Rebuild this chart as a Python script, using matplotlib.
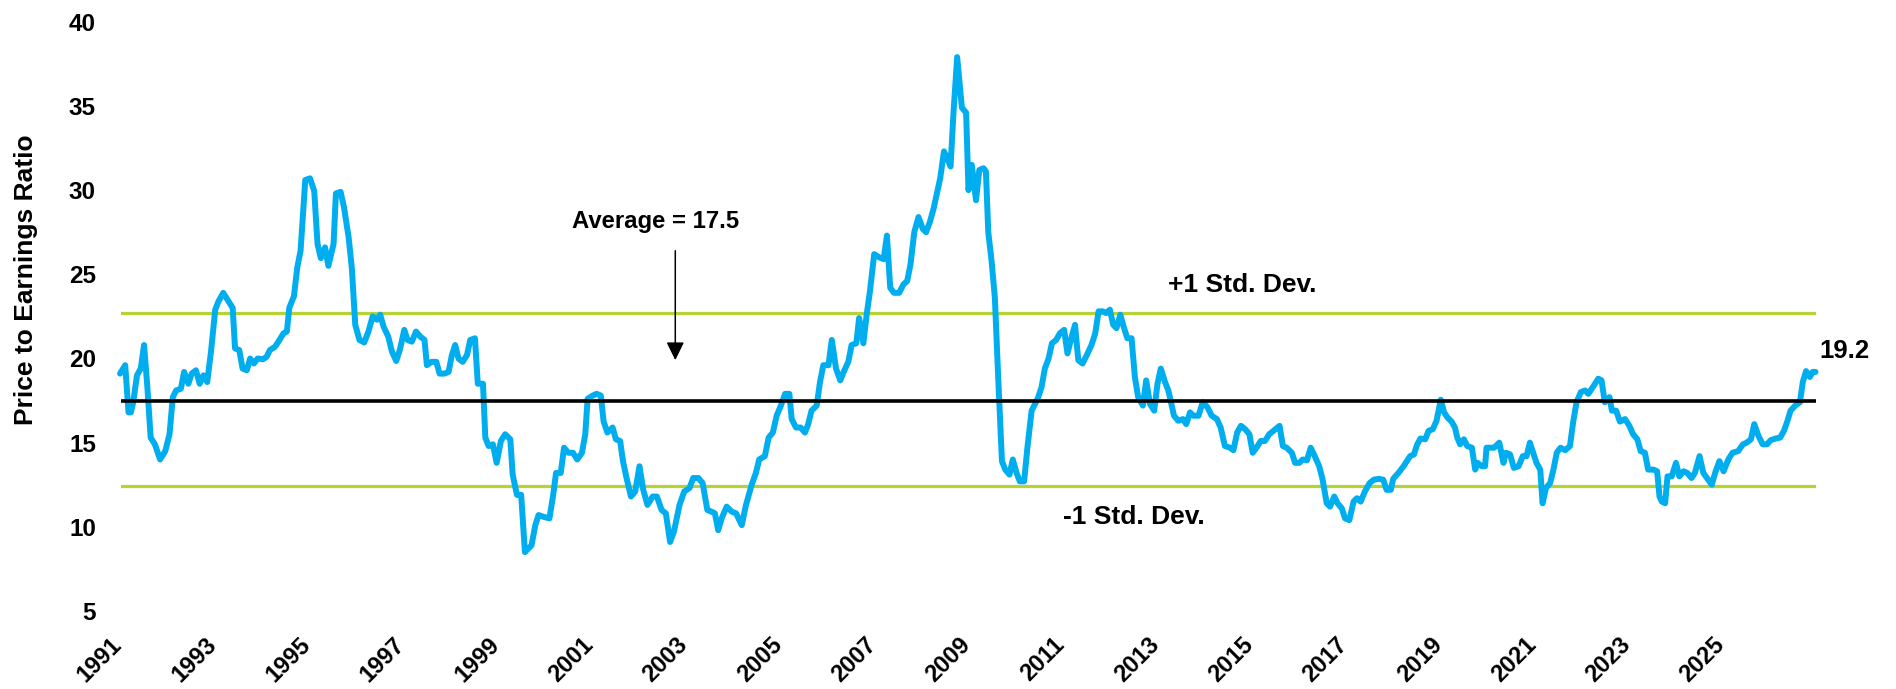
import matplotlib
matplotlib.use("Agg")
import matplotlib.pyplot as plt

# P/E ratio (decimal year, value)
years = [
    1990.86, 1990.97, 1991.04, 1991.09, 1991.14, 1991.22, 1991.30, 1991.37, 1991.44, 1991.51,
    1991.60, 1991.71, 1991.82, 1991.91, 1991.98, 1992.05, 1992.15, 1992.22, 1992.31, 1992.38,
    1992.47, 1992.55, 1992.63, 1992.71, 1992.79, 1992.88, 1992.95, 1993.05, 1993.16, 1993.25,
    1993.30, 1993.39, 1993.46, 1993.55, 1993.62, 1993.70, 1993.78, 1993.89, 1993.97, 1994.04,
    1994.15, 1994.22, 1994.33, 1994.40, 1994.45, 1994.55, 1994.62, 1994.69, 1994.79, 1994.89,
    1994.98, 1995.05, 1995.12, 1995.21, 1995.28, 1995.39, 1995.44, 1995.54, 1995.61, 1995.71,
    1995.78, 1995.85, 1995.94, 1996.04, 1996.13, 1996.22, 1996.31, 1996.38, 1996.45, 1996.55,
    1996.63, 1996.72, 1996.80, 1996.89, 1996.96, 1997.05, 1997.14, 1997.23, 1997.32, 1997.37,
    1997.47, 1997.57, 1997.64, 1997.74, 1997.83, 1997.90, 1997.97, 1998.04, 1998.13, 1998.22,
    1998.29, 1998.39, 1998.45, 1998.56, 1998.61, 1998.68, 1998.77, 1998.85, 1998.94, 1999.03,
    1999.14, 1999.19, 1999.28, 1999.37, 1999.45, 1999.52, 1999.59, 1999.67, 1999.74, 1999.84,
    1999.97, 2000.05, 2000.11, 2000.21, 2000.28, 2000.37, 2000.47, 2000.56, 2000.66, 2000.73,
    2000.78, 2000.89, 2000.97, 2001.06, 2001.12, 2001.20, 2001.31, 2001.38, 2001.47, 2001.53,
    2001.61, 2001.70, 2001.79, 2001.88, 2001.96, 2002.05, 2002.16, 2002.25, 2002.35, 2002.44,
    2002.53, 2002.61, 2002.73, 2002.83, 2002.94, 2003.02, 2003.13, 2003.22, 2003.32, 2003.41,
    2003.48, 2003.55, 2003.63, 2003.73, 2003.84, 2003.93, 2004.05, 2004.14, 2004.23, 2004.26,
    2004.35, 2004.42, 2004.54, 2004.62, 2004.71, 2004.79, 2004.88, 2004.97, 2005.06, 2005.11,
    2005.20, 2005.30, 2005.39, 2005.46, 2005.53, 2005.64, 2005.71, 2005.78, 2005.89, 2005.96,
    2006.05, 2006.14, 2006.22, 2006.31, 2006.38, 2006.48, 2006.54, 2006.63, 2006.70, 2006.77,
    2006.86, 2006.97, 2007.06, 2007.13, 2007.20, 2007.28, 2007.39, 2007.48, 2007.56, 2007.63,
    2007.71, 2007.80, 2007.89, 2007.96, 2008.04, 2008.12, 2008.19, 2008.26, 2008.34, 2008.41,
    2008.48, 2008.54, 2008.62, 2008.72, 2008.81, 2008.86, 2008.93, 2009.02, 2009.09, 2009.18,
    2009.23, 2009.28, 2009.35, 2009.42, 2009.49, 2009.57, 2009.64, 2009.73, 2009.80, 2009.88,
    2009.95, 2010.04, 2010.11, 2010.20, 2010.29, 2010.34, 2010.41, 2010.48, 2010.56, 2010.63,
    2010.72, 2010.80, 2010.89, 2010.96, 2011.05, 2011.12, 2011.19, 2011.28, 2011.37, 2011.47,
    2011.55, 2011.62, 2011.71, 2011.78, 2011.86, 2011.93, 2012.00, 2012.08, 2012.15, 2012.23,
    2012.32, 2012.39, 2012.46, 2012.56, 2012.63, 2012.71, 2012.80, 2012.87, 2012.94, 2013.03,
    2013.10, 2013.22, 2013.31, 2013.41, 2013.48, 2013.56, 2013.63, 2013.74, 2013.83, 2013.93,
    2014.02, 2014.13, 2014.21, 2014.30, 2014.41, 2014.48, 2014.56, 2014.64, 2014.73, 2014.82,
    2014.89, 2014.97, 2015.06, 2015.15, 2015.24, 2015.33, 2015.46, 2015.53, 2015.61, 2015.72,
    2015.79, 2015.88, 2015.95, 2016.04, 2016.12, 2016.19, 2016.30, 2016.37, 2016.46, 2016.53,
    2016.62, 2016.69, 2016.78, 2016.85, 2016.94, 2017.03, 2017.10, 2017.18, 2017.27, 2017.37,
    2017.46, 2017.56, 2017.66, 2017.73, 2017.82, 2017.87, 2017.98, 2018.09, 2018.16, 2018.23,
    2018.31, 2018.38, 2018.45, 2018.55, 2018.62, 2018.71, 2018.79, 2018.88, 2018.95, 2019.02,
    2019.11, 2019.18, 2019.23, 2019.29, 2019.37, 2019.44, 2019.54, 2019.61, 2019.66, 2019.75,
    2019.82, 2019.85, 2019.94, 2020.01, 2020.12, 2020.21, 2020.26, 2020.35, 2020.43, 2020.53,
    2020.62, 2020.70, 2020.77, 2020.84, 2020.91, 2020.99, 2021.04, 2021.11, 2021.20, 2021.27,
    2021.34, 2021.42, 2021.52, 2021.62, 2021.69, 2021.76, 2021.85, 2021.94, 2022.01, 2022.13,
    2022.22, 2022.29, 2022.36, 2022.46, 2022.51, 2022.60, 2022.68, 2022.79, 2022.88, 2022.96,
    2023.05, 2023.12, 2023.21, 2023.28, 2023.39, 2023.47, 2023.52, 2023.57, 2023.64, 2023.69,
    2023.78, 2023.87, 2023.94, 2024.03, 2024.11, 2024.20, 2024.27, 2024.37, 2024.45, 2024.54,
    2024.63, 2024.70, 2024.79, 2024.88, 2024.98, 2025.07, 2025.19, 2025.29, 2025.37, 2025.46,
    2025.53, 2025.62, 2025.71, 2025.80, 2025.88, 2025.99, 2026.08, 2026.16, 2026.23, 2026.30,
    2026.40, 2026.50, 2026.56, 2026.63, 2026.71, 2026.77, 2026.83,
]
pe_ratio = [
    19.1, 19.6, 16.8, 16.8, 17.4, 19.0, 19.4, 20.8, 18.3, 15.3,
    14.9, 14.0, 14.5, 15.5, 17.7, 18.1, 18.2, 19.2, 18.5, 19.1,
    19.3, 18.5, 19.0, 18.6, 20.4, 22.9, 23.4, 23.9, 23.4, 23.0,
    20.6, 20.5, 19.4, 19.3, 20.0, 19.7, 20.0, 19.95, 20.1, 20.5,
    20.7, 21.0, 21.5, 21.6, 23.0, 23.7, 25.4, 26.4, 30.6, 30.7,
    29.95, 26.8, 25.96, 26.6, 25.5, 26.8, 29.8, 29.9, 29.0, 27.2,
    25.3, 22.0, 21.1, 20.95, 21.6, 22.5, 22.3, 22.6, 21.9, 21.3,
    20.4, 19.85, 20.55, 21.7, 21.1, 21.0, 21.6, 21.3, 21.1, 19.6,
    19.8, 19.8, 19.1, 19.1, 19.2, 20.2, 20.8, 20.0, 19.8, 20.2,
    21.1, 21.2, 18.5, 18.5, 15.3, 14.8, 14.9, 13.8, 15.1, 15.5,
    15.2, 13.1, 11.9, 11.9, 8.5, 8.7, 8.9, 10.1, 10.7, 10.6,
    10.5, 11.9, 13.2, 13.2, 14.7, 14.4, 14.4, 14.0, 14.4, 15.5,
    17.6, 17.8, 17.9, 17.8, 16.25, 15.6, 15.9, 15.2, 15.1, 13.9,
    12.85, 11.8, 12.1, 13.6, 12.2, 11.3, 11.8, 11.8, 11.0, 10.8,
    9.1, 9.7, 11.3, 12.1, 12.3, 12.9, 12.9, 12.6, 11.0, 10.9,
    10.8, 9.8, 10.55, 11.2, 10.9, 10.8, 10.1, 11.3, 12.2, 12.5,
    13.2, 14.0, 14.2, 15.3, 15.6, 16.6, 17.2, 17.9, 17.9, 16.4,
    15.9, 15.9, 15.6, 16.1, 16.9, 17.2, 18.6, 19.6, 19.6, 21.1,
    19.4, 18.7, 19.25, 19.8, 20.8, 20.9, 22.4, 20.9, 22.6, 24.0,
    26.2, 26.0, 25.9, 27.3, 24.2, 23.9, 23.9, 24.4, 24.6, 25.6,
    27.5, 28.4, 27.7, 27.5, 28.1, 28.9, 29.8, 30.7, 32.3, 31.9,
    31.4, 34.5, 37.9, 34.9, 34.6, 30.0, 31.5, 29.4, 31.2, 31.3,
    31.1, 27.5, 25.8, 23.6, 18.9, 13.9, 13.4, 13.1, 14.0, 13.2,
    12.7, 12.7, 14.7, 16.9, 17.4, 17.7, 18.3, 19.4, 20.0, 20.9,
    21.1, 21.5, 21.7, 20.3, 21.3, 22.0, 19.9, 19.7, 20.2, 20.8,
    21.5, 22.8, 22.8, 22.7, 22.9, 22.0, 21.8, 22.6, 21.9, 21.2,
    21.2, 18.9, 17.7, 17.2, 18.7, 17.3, 16.9, 18.5, 19.4, 18.6,
    18.1, 16.6, 16.3, 16.4, 16.1, 16.8, 16.6, 16.6, 17.4, 17.1,
    16.6, 16.4, 15.9, 14.8, 14.7, 14.55, 15.6, 16.0, 15.8, 15.5,
    14.4, 14.7, 15.1, 15.1, 15.5, 15.7, 16.0, 14.8, 14.7, 14.4,
    13.8, 13.8, 14.0, 13.95, 14.7, 14.3, 13.6, 12.85, 11.4, 11.2,
    11.8, 11.4, 11.1, 10.5, 10.4, 11.5, 11.7, 11.5, 12.1, 12.6,
    12.8, 12.85, 12.8, 12.2, 12.2, 12.85, 13.2, 13.6, 13.9, 14.2,
    14.3, 14.9, 15.25, 15.2, 15.7, 15.8, 16.3, 17.55, 16.8, 16.5,
    16.25, 15.9, 15.3, 14.9, 15.2, 14.8, 14.7, 13.4, 13.8, 13.6,
    13.6, 14.7, 14.7, 14.7, 15.0, 13.8, 14.4, 14.3, 13.5, 13.6,
    14.2, 14.2, 15.0, 14.4, 13.8, 13.4, 11.4, 12.3, 12.6, 13.4,
    14.4, 14.7, 14.55, 14.8, 16.25, 17.4, 18.0, 18.1, 17.9, 18.4,
    18.8, 18.7, 17.4, 17.7, 16.9, 16.9, 16.25, 16.4, 16.0, 15.5,
    15.2, 14.5, 14.4, 13.4, 13.4, 13.3, 11.8, 11.5, 11.4, 13.0,
    13.0, 13.8, 13.0, 13.3, 13.2, 12.9, 13.2, 14.2, 13.2, 12.85,
    12.5, 13.2, 13.9, 13.3, 14.0, 14.4, 14.5, 14.9, 15.0, 15.2,
    16.1, 15.4, 14.9, 14.9, 15.15, 15.25, 15.3, 15.7, 16.25, 16.9,
    17.2, 17.4, 18.6, 19.25, 18.9, 19.2, 19.2,
]

average = 17.5
plus_one_sd = 22.7
minus_one_sd = 12.4
tick_years = list(range(1991, 2026, 2))
y_ticks = [5, 10, 15, 20, 25, 30, 35, 40]

BLUE = "#00AEEF"
GREEN = "#B5D334"
FONT = "Liberation Sans"

plt.rcParams["font.family"] = FONT
plt.rcParams["font.weight"] = "bold"

fig = plt.figure(figsize=(18.96, 6.89), dpi=100)
ax = fig.add_axes([0.0638, 0.1132, 0.894, 0.8552])

ax.axhline(plus_one_sd, color=GREEN, lw=2.3, zorder=1)
ax.axhline(minus_one_sd, color=GREEN, lw=2.3, zorder=1)
ax.axhline(average, color="black", lw=2.6, zorder=3)
ax.plot(years, pe_ratio, color=BLUE, lw=4.3, solid_joinstyle="round",
        solid_capstyle="round", zorder=2, clip_on=False)

ax.set_xlim(1990.88, 2026.84)
ax.set_ylim(5, 40)
for s in ax.spines.values():
    s.set_visible(False)

ax.set_yticks(y_ticks)
ax.set_yticklabels([str(v) for v in y_ticks], fontsize=17.5, fontweight="bold")
ax.tick_params(axis="y", length=0, pad=18)
ax.set_xticks(tick_years)
ax.set_xticklabels([str(y) for y in tick_years], fontsize=17, fontweight="bold",
                   rotation=45, ha="right")
ax.tick_params(axis="x", length=0, pad=16)

fig.text(0.0135, 0.594, "Price to Earnings Ratio", rotation=90, fontsize=19,
         fontweight="bold", ha="center", va="center")

ax.text(2000.44, 27.77, "Average = 17.5", fontsize=17.2, fontweight="bold",
        ha="left", va="baseline")
ax.annotate("", xy=(2002.64, 19.9), xytext=(2002.64, 26.4),
            arrowprops=dict(arrowstyle="-|>,head_length=0.55,head_width=0.27",
                            mutation_scale=20, color="black", lw=1.1,
                            shrinkA=0, shrinkB=0))
ax.text(2013.09, 23.93, "+1 Std. Dev.", fontsize=19, fontweight="bold",
        ha="left", va="baseline")
ax.text(2010.87, 10.18, "-1 Std. Dev.", fontsize=19, fontweight="bold",
        ha="left", va="baseline")
ax.text(2026.91, 20.03, "19.2", fontsize=18.5, fontweight="bold",
        ha="left", va="baseline", clip_on=False)

fig.savefig("out.png", dpi=100, facecolor="white")
